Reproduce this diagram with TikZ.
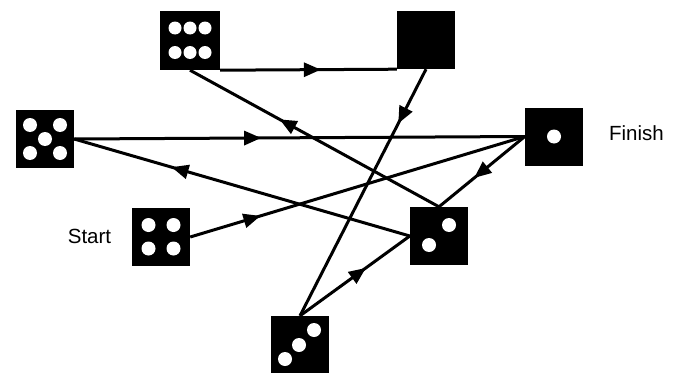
\documentclass[tikz,border=0pt]{standalone}
\usepackage{fontspec}
\setmainfont{Liberation Sans}
\usetikzlibrary{arrows.meta,decorations.markings,calc}
\begin{document}
\begin{tikzpicture}[x=1pt,y=-1pt,
  die/.style={fill=black,draw=none,minimum width=58pt,minimum height=58pt,inner sep=0pt},
  conn/.style={line width=3pt,postaction={decorate},
    decoration={markings,mark=at position #1 with {\arrow{Triangle[length=17pt,width=14pt]}}}},
  lbl/.style={font=\fontsize{20.5}{24}\selectfont,anchor=base,inner sep=0pt}]
\useasboundingbox (0,0) rectangle (677,372);
% dice
\node[die,minimum width=60pt,minimum height=59pt] (six) at (190,40.5) {};
\node[die] (blank) at (426,40) {};
\node[die] (five) at (45,139) {};
\node[die] (finish) at (554,136.5) {};
\node[die] (start) at (161,237) {};
\node[die] (two) at (439,236) {};
\node[die] (three) at (300,345) {};
% dots
\foreach \dx/\dy in {-15/-12.5,0/-12.5,15/-12.5,-15/12,0/12,15/12}
  \fill[white] ($(six)+(\dx,\dy)$) circle[radius=6.5pt];
\foreach \dx/\dy in {-15/-14,15/-14,0/0,-15/14,15/14}
  \fill[white] ($(five)+(\dx,\dy)$) circle[radius=7pt];
\foreach \dx/\dy in {-12.5/-12,12.5/-12,-12.5/11.5,12.5/11.5}
  \fill[white] ($(start)+(\dx,\dy)$) circle[radius=7pt];
\fill[white] (finish) circle[radius=7pt];
\foreach \dx/\dy in {10/-11,-10/9}
  \fill[white] ($(two)+(\dx,\dy)$) circle[radius=7pt];
\foreach \dx/\dy in {14/-15,-1/0,-15/14}
  \fill[white] ($(three)+(\dx,\dy)$) circle[radius=7pt];
% labels
\node[lbl] (startlbl) at (89.5,243) {Start};
\node[lbl] (finishlbl) at (636.5,140) {Finish};
% connectors
\draw[conn=0.57] (six.south east) -- (blank.south west);
\draw[conn=0.64] (two.north) -- (six.south);
\draw[conn=0.22] (blank.south) -- (three.north);
\draw[conn=0.415] (five.east) -- (finish.west);
\draw[conn=0.71] (two.west) -- (five.east);
\draw[conn=0.21] (start.east) -- (finish.west);
\draw[conn=0.59] (finish.west) -- (two.north);
\draw[conn=0.6] (three.north) -- (two.west);
\end{tikzpicture}
\end{document}
